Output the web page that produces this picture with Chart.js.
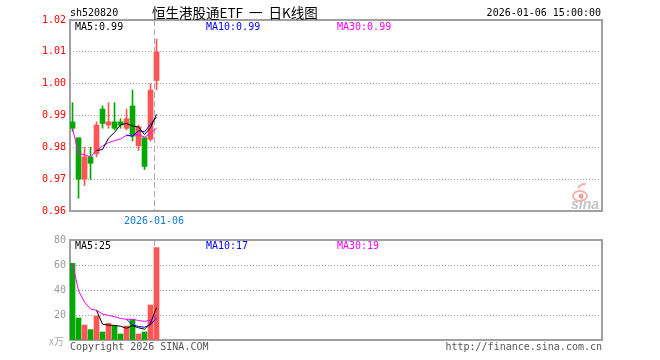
<!DOCTYPE html>
<html>
<head>
<meta charset="utf-8">
<script src="https://cdn.jsdelivr.net/npm/chart.js@4"></script>
<style>
  html, body { margin: 0; padding: 0; background: #fff; }
  #wrap { position: relative; width: 660px; height: 360px; }
  canvas { position: absolute; left: 0; }
</style>
</head>
<body>
<div id="wrap">
  <canvas id="kline" width="660" height="230" style="top:0"></canvas>
  <canvas id="volume" width="660" height="130" style="top:230px"></canvas>
</div>
<script>
// 15 trading days, last one is 2026-01-06
const days = ["2025-12-15", "2025-12-16", "2025-12-17", "2025-12-18", "2025-12-19",
  "2025-12-22", "2025-12-23", "2025-12-24", "2025-12-25", "2025-12-26",
  "2025-12-29", "2025-12-30", "2025-12-31", "2026-01-05", "2026-01-06"]

const open  = [0.988, 0.983, 0.970, 0.977, 0.978, 0.992, 0.987, 0.988, 0.988, 0.986, 0.993, 0.9805, 0.983, 0.9825, 1.001]
const high  = [0.994, 0.983, 0.980, 0.980, 0.988, 0.993, 0.994, 0.994, 0.989, 0.992, 0.998, 0.987, 0.983, 1.000, 1.014]
const low   = [0.985, 0.964, 0.968, 0.970, 0.977, 0.986, 0.986, 0.9855, 0.986, 0.9855, 0.982, 0.979, 0.973, 0.982, 0.998]
const close = [0.986, 0.970, 0.977, 0.975, 0.987, 0.9875, 0.988, 0.986, 0.987, 0.989, 0.9835, 0.9865, 0.974, 0.998, 1.010]

const ma5  = [null, null, null, null, 0.979, 0.9793, 0.9829, 0.9847, 0.9871, 0.9875, 0.9867, 0.9864, 0.984, 0.9862, 0.9904]
const ma10 = [null, null, null, null, null, null, null, null, null, 0.9838, 0.9835, 0.9852, 0.9849, 0.9872, 0.9895]
const ma30 = [0.986, 0.978, 0.9777, 0.977, 0.979, 0.9804, 0.9815, 0.9821, 0.9826, 0.9838, 0.9837, 0.984, 0.9832, 0.9843, 0.986]

// volume in 万
const volume = [61.3, 17.6, 12.0, 8.3, 19.2, 6.4, 13.3, 11.5, 4.8, 11.2, 16.5, 4.8, 6.4, 28.0, 73.9]
const vma5  = [null, null, null, null, 23.7, 12.7, 11.8, 11.7, 11.0, 9.4, 11.5, 9.8, 8.7, 13.4, 25.9]
const vma10 = [null, null, null, null, null, null, null, null, null, 16.6, 12.1, 10.8, 10.2, 12.2, 17.7]
const vma30 = [61.3, 39.5, 30.3, 24.8, 23.7, 20.8, 19.7, 18.7, 17.2, 16.6, 16.6, 15.6, 14.9, 15.8, 19.7]

const priceTicks = [0.96, 0.97, 0.98, 0.99, 1.00, 1.01, 1.02]
const volumeTicks = [0, 20, 40, 60, 80]

const UP = "#ff5555"
const DOWN = "#00a800"
const MONO = '"DejaVu Sans Mono", monospace'
const curIndex = days.length - 1

const colors = close.map((c, i) => (c >= open[i] ? UP : DOWN))
const pts = arr => arr.map((v, i) => ({ x: i, y: v }))

// x axis holds room for ~89 days, only the first 15 are filled
const xScale = {
  type: "linear",
  display: false,
  offset: false,
  min: -0.42,
  max: 88.25,
}

function yScale(ticks, color, fmt) {
  return {
    min: ticks[0],
    max: ticks[ticks.length - 1],
    afterBuildTicks: s => { s.ticks = ticks.map(v => ({ value: v })) },
    afterFit: s => { s.width = 70 },
    grid: { color: "#999", lineWidth: 1, drawTicks: false },
    border: { display: false, dash: [1, 2] },
    ticks: { color: color, padding: 4, font: { family: MONO, size: 10 }, callback: fmt },
  }
}

function maLine(data, color) {
  return {
    type: "line",
    data: pts(data),
    borderColor: color,
    borderWidth: 1,
    pointRadius: 0,
    tension: 0,
    spanGaps: false,
    order: 0,
  }
}

function text(ctx, str, x, y, color, font, align) {
  ctx.font = font
  ctx.fillStyle = color
  ctx.textAlign = align || "left"
  ctx.textBaseline = "middle"
  ctx.fillText(str, x, y)
}

function frameAndCursor(chart) {
  const { ctx, chartArea: a, scales } = chart
  ctx.save()
  const x = Math.floor(scales.x.getPixelForValue(curIndex)) - 2 + 0.5
  ctx.strokeStyle = "#aaa"
  ctx.lineWidth = 1
  ctx.setLineDash([6, 3])
  ctx.beginPath()
  ctx.moveTo(x, a.top)
  ctx.lineTo(x, a.bottom)
  ctx.stroke()
  ctx.setLineDash([])
  ctx.strokeStyle = "#a0a0a0"
  ctx.lineWidth = 2
  ctx.strokeRect(a.left, a.top, a.right - a.left, a.bottom - a.top)
  ctx.restore()
}

const klineDecor = {
  id: "klineDecor",
  beforeDatasetsDraw(chart) {
    const { ctx } = chart
    frameAndCursor(chart)
    // sina watermark
    ctx.save()
    ctx.strokeStyle = "#f2b0b0"
    ctx.lineWidth = 2
    ctx.beginPath()
    ctx.ellipse(580, 196, 7, 5, 0, 0, Math.PI * 2)
    ctx.stroke()
    ctx.fillStyle = "#eca0a0"
    ctx.beginPath()
    ctx.arc(581, 196, 2.5, 0, Math.PI * 2)
    ctx.fill()
    ctx.beginPath()
    ctx.arc(584, 190, 6, -Math.PI * 0.9, -Math.PI * 0.4)
    ctx.stroke()
    text(ctx, "sina", 599, 205, "#c4c4c4", 'italic bold 14px "Liberation Sans"', "right")
    ctx.restore()
  },
  afterDraw(chart) {
    const { ctx, scales } = chart
    ctx.save()
    text(ctx, "sh520820", 70, 13, "#000", "10px " + MONO)
    // title: CJK part and latin part drawn piece by piece to keep the gaps
    const tf = '13.5px "Noto Sans CJK SC"'
    let tx = 152
    for (const part of ["恒生港股通", "ETF", "  一  ", "日K线图"]) {
      text(ctx, part, tx, 13, "#000", tf)
      tx += ctx.measureText(part).width
    }
    text(ctx, days[curIndex] + " 15:00:00", 601, 13, "#000", "10px " + MONO, "right")
    text(ctx, "MA5:" + ma5[curIndex].toFixed(2), 75, 27, "#000", "10px " + MONO)
    text(ctx, "MA10:" + ma10[curIndex].toFixed(2), 206, 27, "#0000ff", "10px " + MONO)
    text(ctx, "MA30:" + ma30[curIndex].toFixed(2), 337, 27, "#ff00ff", "10px " + MONO)
    const x = Math.floor(scales.x.getPixelForValue(curIndex)) - 2
    text(ctx, days[curIndex], x, 221, "#1478d2", "10px " + MONO, "center")
    ctx.restore()
  },
}

const volumeDecor = {
  id: "volumeDecor",
  beforeDatasetsDraw(chart) {
    frameAndCursor(chart)
  },
  afterDraw(chart) {
    const { ctx } = chart
    ctx.save()
    text(ctx, "MA5:" + Math.floor(vma5[curIndex]), 75, 16, "#000", "10px " + MONO)
    text(ctx, "MA10:" + Math.floor(vma10[curIndex]), 206, 16, "#0000ff", "10px " + MONO)
    text(ctx, "MA30:" + Math.floor(vma30[curIndex]), 337, 16, "#ff00ff", "10px " + MONO)
    text(ctx, "x万", 64, 111, "#aaa", '10px "Noto Sans CJK SC"', "right")
    text(ctx, "Copyright 2026 SINA.COM", 70, 117, "#555", "10px " + MONO)
    text(ctx, "http://finance.sina.com.cn", 602, 117, "#555", "10px " + MONO, "right")
    ctx.restore()
  },
}

const common = {
  responsive: false,
  animation: false,
  events: [],
  plugins: { legend: { display: false }, tooltip: { enabled: false } },
}

new Chart(document.getElementById("kline"), {
  type: "bar",
  data: {
    datasets: [
      maLine(ma5, "#000"),
      maLine(ma10, "#0000ff"),
      maLine(ma30, "#ff00ff"),
      {
        data: days.map((d, i) => ({ x: i, y: [low[i], high[i]] })),
        backgroundColor: colors,
        barThickness: 1,
        grouped: false,
        order: 2,
      },
      {
        data: days.map((d, i) => ({ x: i, y: [open[i], close[i]] })),
        backgroundColor: colors,
        barThickness: 5,
        minBarLength: 1,
        grouped: false,
        order: 1,
      },
    ],
  },
  options: {
    ...common,
    layout: { padding: { top: 20, right: 58, bottom: 19, left: 0 } },
    scales: {
      x: xScale,
      y: yScale(priceTicks, "#ff0000", v => v.toFixed(2)),
    },
  },
  plugins: [klineDecor],
})

new Chart(document.getElementById("volume"), {
  type: "bar",
  data: {
    datasets: [
      maLine(vma5, "#000"),
      maLine(vma10, "#0000ff"),
      maLine(vma30, "#ff00ff"),
      {
        data: pts(volume),
        backgroundColor: colors,
        barThickness: 5,
        grouped: false,
        order: 1,
      },
    ],
  },
  options: {
    ...common,
    layout: { padding: { top: 10, right: 58, bottom: 20, left: 0 } },
    scales: {
      x: xScale,
      y: yScale(volumeTicks, "#999", v => (v === 0 ? "" : v)),
    },
  },
  plugins: [volumeDecor],
})
</script>
</body>
</html>
